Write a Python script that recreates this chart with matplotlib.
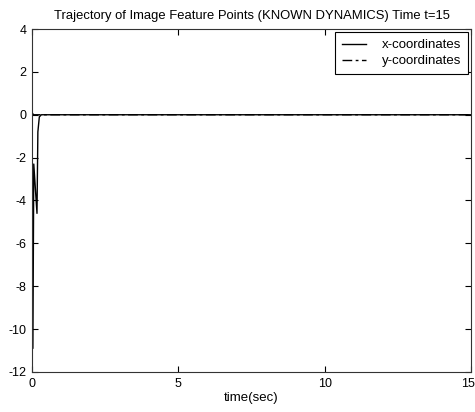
import matplotlib
matplotlib.use("Agg")
import matplotlib.pyplot as plt
from matplotlib.transforms import ScaledTranslation

# valores
t_x = [0.0, 0.03, 0.06, 0.17, 0.20, 0.25, 0.32, 15.0]
x_coord = [0.2, -10.9, -2.3, -4.6, -0.8, -0.1, 0.0, 0.0]
t_y = [0.0, 0.05, 15.0]
y_coord = [0.1, 0.0, 0.0]

x_ticks = [0, 5, 10, 15]
y_ticks = [-12, -10, -8, -6, -4, -2, 0, 2, 4]

plt.rcParams["font.family"] = ["Liberation Sans", "DejaVu Sans"]
plt.rcParams["font.size"] = 9
plt.rcParams["axes.unicode_minus"] = False

fig = plt.figure(figsize=(4.75, 4.12), dpi=100)
ax = fig.add_axes([0.0674, 0.0971, 0.924, 0.8325])

ax.plot(t_x, x_coord, color="black", linewidth=1.0, label="x-coordinates")
ax.plot(t_y, y_coord, color="black", linewidth=1.0, dashes=(7, 2.5, 2, 2.5), label="y-coordinates")

ax.set_xlim(0, 15)
ax.set_ylim(-12, 4)
ax.set_xticks(x_ticks)
ax.set_yticks(y_ticks)
ax.tick_params(direction="in", top=True, right=True, length=4, width=0.8, pad=4)
for s in ax.spines.values():
    s.set_linewidth(0.8)
    s.set_color("#333333")

# le dernier label "15" est collé au bord droit
last = ax.get_xticklabels()[-1]
last.set_transform(last.get_transform() + ScaledTranslation(-2 / 72, 0, fig.dpi_scale_trans))

ax.set_xlabel("time(sec)", fontsize=9.5, labelpad=2)
ax.set_title("Trajectory of Image Feature Points (KNOWN DYNAMICS) Time t=15",
             fontsize=9.4, pad=7)

leg = ax.legend(loc="upper right", fancybox=False, framealpha=1, edgecolor="black",
                fontsize=9.5, handlelength=1.8, handletextpad=1.2,
                borderpad=0.5, labelspacing=0.3, borderaxespad=0.25)
leg.get_frame().set_linewidth(0.8)

fig.savefig("out.png", dpi=100)
